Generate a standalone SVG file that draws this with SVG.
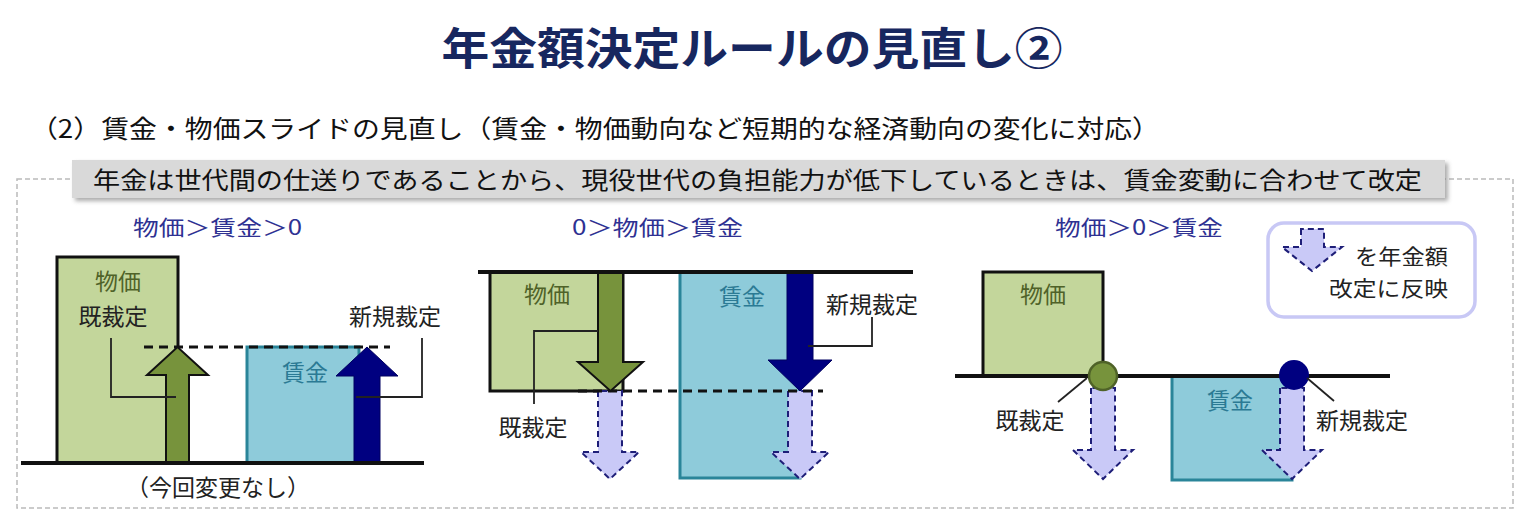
<svg xmlns="http://www.w3.org/2000/svg" width="1527" height="519" viewBox="0 0 1527 519">
<defs>
<style>
text{font-family:"Noto Sans CJK JP","Noto Sans",sans-serif;}
.title{font-size:44px;font-weight:bold;fill:#17275F;}
.sub{font-size:25px;fill:#111;}
.band{font-size:24px;fill:#111;}
.head{font-size:21px;fill:#2E3192;}
.lbl{font-size:23px;fill:#222;}
.leg{font-size:21px;fill:#222;}
.gtx{font-size:23px;fill:#4F6228;}
.btx{font-size:23px;fill:#2B7A94;}
.gbox{fill:#C3D69B;stroke:#111;stroke-width:3;}
.bbox{fill:#8ECBDA;stroke:#2A8599;stroke-width:3;}
.base{stroke:#111;stroke-width:4;fill:none;}
.dash{stroke:#111;stroke-width:3;stroke-dasharray:9 6;fill:none;}
.garr{fill:#77933C;stroke:#111;stroke-width:2;}
.narr{fill:#000080;stroke:#000060;stroke-width:1;}
.parr{fill:#C9C9F7;stroke:#1E1E78;stroke-width:2;stroke-dasharray:6 4;}
.lead{stroke:#222;stroke-width:1.8;fill:none;}
</style>
<filter id="sh" x="-5%" y="-50%" width="110%" height="200%"><feGaussianBlur stdDeviation="2"/></filter>
</defs>
<rect width="1527" height="519" fill="#fff"/>

<g id="title"><text class="title" x="752" y="65" text-anchor="middle" textLength="621" lengthAdjust="spacingAndGlyphs">年金額決定ルールの見直し②</text></g>
<g id="subtitle"><text class="sub" x="30" y="138" textLength="1130" lengthAdjust="spacingAndGlyphs">（2）賃金・物価スライドの見直し（賃金・物価動向など短期的な経済動向の変化に対応）</text></g>

<g id="frame"><rect x="17" y="179" width="1496" height="329" fill="none" stroke="#BBBBBB" stroke-width="1.5" stroke-dasharray="5 3"/></g>

<g id="banner">
<rect x="75" y="163" width="1373" height="38" fill="#888" opacity="0.7" filter="url(#sh)"/>
<rect x="72" y="160" width="1373" height="38" fill="#D9D9D9"/>
<text class="band" x="93" y="189" textLength="1329" lengthAdjust="spacingAndGlyphs">年金は世代間の仕送りであることから、現役世代の負担能力が低下しているときは、賃金変動に合わせて改定</text>
</g>

<g id="panel1">
<text class="head" x="133" y="235" textLength="169" lengthAdjust="spacingAndGlyphs">物価＞賃金＞0</text>
<rect class="gbox" x="57" y="257" width="121" height="206"/>
<text class="gtx" x="118" y="290" text-anchor="middle">物価</text>
<text class="lbl" x="113" y="325" text-anchor="middle">既裁定</text>
<rect class="bbox" x="247" y="347" width="112" height="116"/>
<text class="btx" x="305" y="381" text-anchor="middle">賃金</text>
<line class="dash" x1="144" y1="347" x2="390" y2="347"/>
<polygon class="garr" points="166,463 166,375 147,375 177.5,347 208,375 189,375 189,463"/>
<polygon class="narr" points="354,463 354,376 336,376 367,347 398,376 380,376 380,463"/>
<text class="lbl" x="395" y="325" text-anchor="middle">新規裁定</text>
<line class="base" x1="21" y1="463" x2="424" y2="463"/>
<text class="lbl" x="218" y="496" text-anchor="middle">（今回変更なし）</text>
</g>

<g id="panel2">
<text class="head" x="572" y="235" textLength="171" lengthAdjust="spacingAndGlyphs">0＞物価＞賃金</text>
<rect class="gbox" x="490" y="272" width="133" height="119"/>
<text class="gtx" x="547" y="303" text-anchor="middle">物価</text>
<rect class="bbox" x="680" y="272" width="120" height="206"/>
<text class="btx" x="742" y="305" text-anchor="middle">賃金</text>
<polygon class="parr" points="598,391 598,452 581,452 610,479 639,452 622,452 622,391"/>
<polygon class="parr" points="788,391 788,452 771,452 800,479 829,452 812,452 812,391"/>
<line class="dash" x1="578" y1="391" x2="823" y2="391"/>
<polygon class="garr" points="598,272 598,362 578,362 610.5,391 643,362 623,362 623,272"/>
<polygon class="narr" points="787,272 787,360 768,360 800,391 832,360 813,360 813,272"/>
<line class="base" x1="478" y1="272" x2="913" y2="272"/>
<text class="lbl" x="533" y="436" text-anchor="middle">既裁定</text>
<text class="lbl" x="872" y="313" text-anchor="middle">新規裁定</text>
</g>

<g id="panel3">
<text class="head" x="1055" y="235" textLength="168" lengthAdjust="spacingAndGlyphs">物価＞0＞賃金</text>
<rect class="gbox" x="983" y="272" width="120" height="104"/>
<text class="gtx" x="1043" y="303" text-anchor="middle">物価</text>
<rect class="bbox" x="1172" y="376" width="120" height="104"/>
<text class="btx" x="1230" y="409" text-anchor="middle">賃金</text>
<line class="base" x1="955" y1="376" x2="1390" y2="376"/>
<polygon class="parr" points="1091,388 1091,450 1073,450 1103,479 1133,450 1115,450 1115,388"/>
<polygon class="parr" points="1280,388 1280,450 1262,450 1292,479 1322,450 1304,450 1304,388"/>
<circle cx="1103" cy="376" r="14" fill="#77933C" stroke="#4F6228" stroke-width="2.5"/>
<circle cx="1294" cy="375" r="15" fill="#000080"/>
<text class="lbl" x="1030" y="429" text-anchor="middle">既裁定</text>
<text class="lbl" x="1362" y="429" text-anchor="middle">新規裁定</text>
</g>

<g id="legend">
<rect x="1268" y="223" width="207" height="94" rx="16" fill="#fff" stroke="#C8C8F5" stroke-width="3.5"/>
<polygon class="parr" points="1301,229 1301,247 1282,247 1312,271 1342,247 1324,247 1324,229"/>
<text class="leg" x="1448" y="264" text-anchor="end" textLength="93" lengthAdjust="spacingAndGlyphs">を年金額</text>
<text class="leg" x="1448" y="296" text-anchor="end" textLength="119" lengthAdjust="spacingAndGlyphs">改定に反映</text>
</g>

<g id="connectors">
<polyline class="lead" points="111,338 111,397 176,397"/>
<polyline class="lead" points="422,338 422,397 356,397"/>
<polyline class="lead" points="598,331 534,331 534,404"/>
<polyline class="lead" points="872,317 872,346 808,346"/>
<line class="lead" x1="1087" y1="378" x2="1058" y2="402"/>
<line class="lead" x1="1307" y1="378" x2="1334" y2="401"/>
</g>
</svg>
